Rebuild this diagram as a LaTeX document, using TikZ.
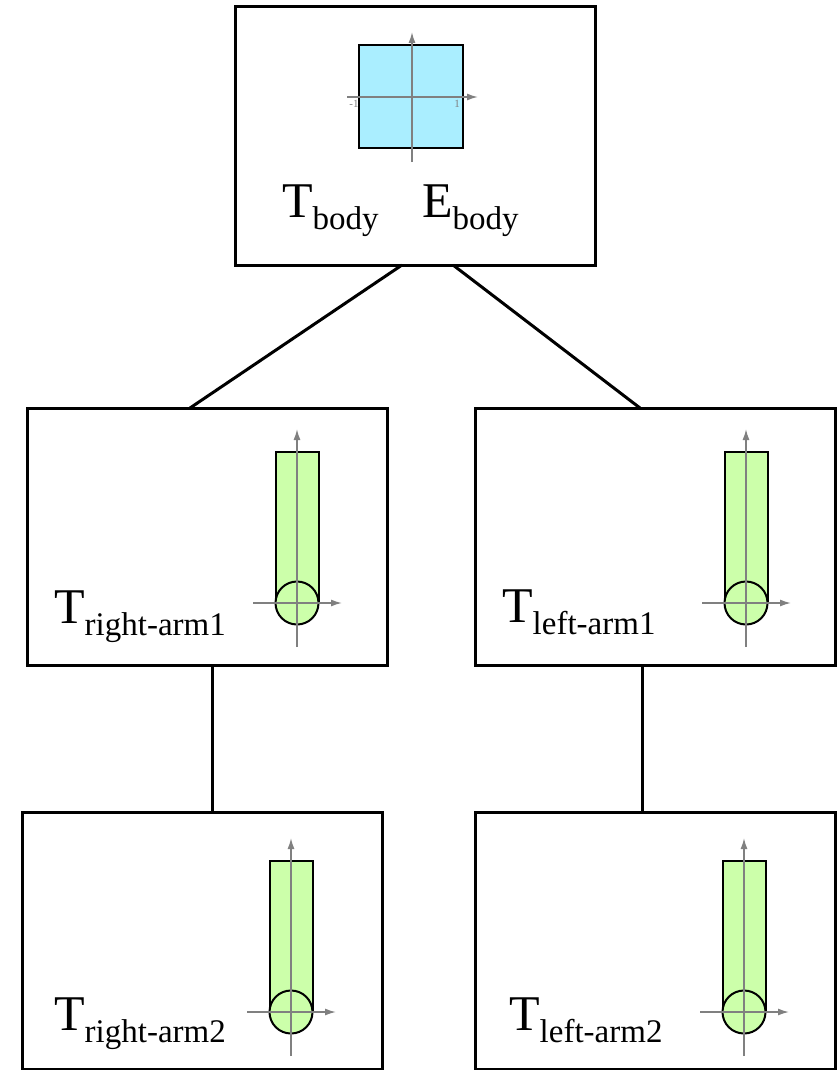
\documentclass[tikz,border=0pt]{standalone}
\usepackage{fontspec}
\setmainfont{Liberation Serif}
\usetikzlibrary{arrows.meta}
\definecolor{bodyblue}{RGB}{170,238,255}
\definecolor{armgreen}{RGB}{204,255,170}
\definecolor{axisgray}{RGB}{128,128,128}
\newcommand{\lbl}[2]{#1\raisebox{-12pt}{\fontsize{33}{33}\selectfont #2}}

\begin{document}
\begin{tikzpicture}[x=1pt,y=-1pt,
  frame/.style={draw,line width=3pt,minimum width=360pt,minimum height=257pt,inner sep=0pt,outer sep=0pt},
  link/.style={line width=3pt},
  axis/.style={draw=axisgray,line width=1.5pt,-{Latex[length=11pt,width=7pt]}},
  part/.style={draw=black,line width=2pt},
  tname/.style={anchor=base west,inner sep=0pt,font=\fontsize{50}{60}\selectfont},
  tick/.style={inner sep=0pt,text=axisgray,font=\fontsize{11}{11}\selectfont}]
  \useasboundingbox (0,0) rectangle (838,1070);

  % tree of frames
  \node[frame,minimum height=258pt] (body) at (415.5,136) {};
  \node[frame] (rarm1) at (207,536.5) {};
  \node[frame] (larm1) at (655.5,536.5) {};
  \node[frame] (rarm2) at (202,941) {};
  \node[frame] (larm2) at (655.5,941) {};

  \draw[link] ([xshift=-13.5pt]body.south) -- ([xshift=-17pt]rarm1.north);
  \draw[link] ([xshift=37.5pt]body.south) -- ([xshift=-15.5pt]larm1.north);
  \draw[link] ([xshift=5pt]rarm1.south) -- ([xshift=10pt]rarm2.north);
  \draw[link] ([xshift=-13pt]larm1.south) -- ([xshift=-13pt]larm2.north);

  % body shape
  \filldraw[part,fill=bodyblue] (359,45) rectangle (463,148);
  \draw[axis] (412,162) -- (412,32);
  \draw[axis] (347,97) -- (478,97);
  \node[tick] (mone) at (354,104) {-1};
  \node[tick] (pone) at (457,104) {1};

  % arm shapes
  \foreach \cx/\cy in {297/603,746/603,291/1012,744/1012} {
    \begin{scope}[shift={(\cx,\cy)}]
      \fill[armgreen] (-21.5,0) rectangle (21.5,-151);
      \draw[part] (-21.5,0) -- (-21.5,-151) -- (21.5,-151) -- (21.5,0);
      \filldraw[part,fill=armgreen] (0,0) circle (21.5);
      \draw[axis] (0,44) -- (0,-174);
      \draw[axis] (-44,0) -- (45,0);
    \end{scope}
  }

  % labels
  \node[tname] (tbody) at (282,217) {\lbl{T}{body}};
  \node[tname] (ebody) at (422,217) {\lbl{E}{body}};
  \node[tname] (trarm1) at (54,623) {\lbl{T}{right-arm1}};
  \node[tname] (tlarm1) at (502,622) {\lbl{T}{left-arm1}};
  \node[tname] (trarm2) at (54,1030) {\lbl{T}{right-arm2}};
  \node[tname] (tlarm2) at (509,1030) {\lbl{T}{left-arm2}};
\end{tikzpicture}
\end{document}
